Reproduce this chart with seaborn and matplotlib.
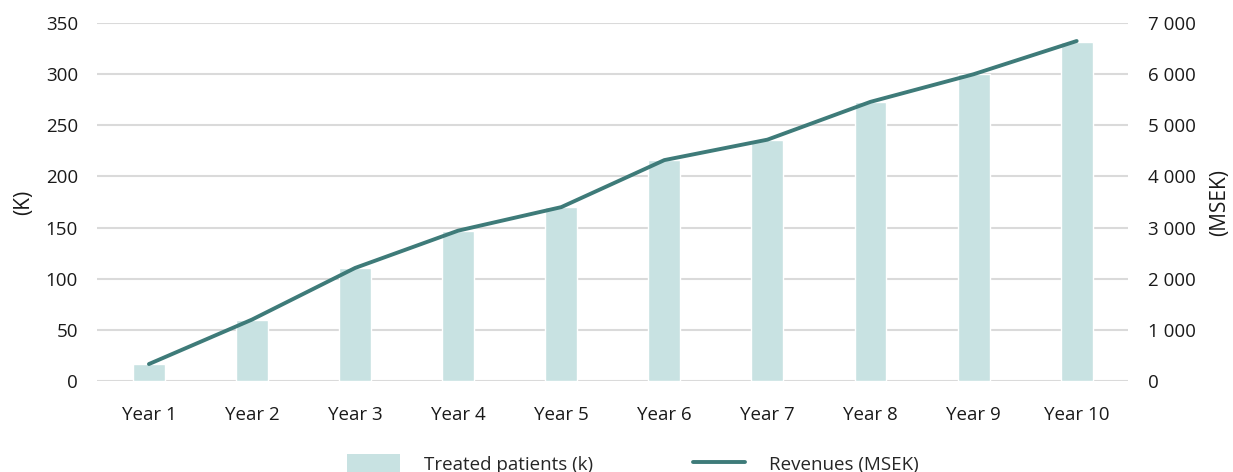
import matplotlib
matplotlib.use("Agg")
import matplotlib.pyplot as plt
import seaborn as sns
import numpy as np
import pandas as pd
from matplotlib.patches import Patch
from matplotlib.lines import Line2D

years = ["Year 1", "Year 2", "Year 3", "Year 4", "Year 5",
         "Year 6", "Year 7", "Year 8", "Year 9", "Year 10"]
treated_patients_k = [17, 60, 110, 147, 170, 216, 236, 273, 300, 332]
revenues_msek = [330, 1200, 2210, 2940, 3400, 4320, 4720, 5460, 6000, 6650]
left_ticks = [0, 50, 100, 150, 200, 250, 300, 350]
right_ticks = [0, 1000, 2000, 3000, 4000, 5000, 6000, 7000]
right_tick_labels = ["0", "1 000", "2 000", "3 000", "4 000", "5 000", "6 000", "7 000"]
left_label = "(K)"
right_label = "(MSEK)"
bar_name = "Treated patients (k)"
line_name = "Revenues (MSEK)"

bar_color = "#c8e2e2"
line_color = "#3e7b79"
grid_color = "#dadada"
text_color = "#1a1a1a"

sns.set_theme(style="white")
plt.rcParams["font.family"] = ["Open Sans", "DejaVu Sans"]

df = pd.DataFrame({"year": years, "patients": treated_patients_k,
                   "revenue": revenues_msek, "pos": np.arange(len(years))})

fig = plt.figure(figsize=(12.33, 4.72), dpi=100)
ax = fig.add_axes([0.079, 0.193, 0.836, 0.758])

sns.barplot(data=df, x="year", y="patients", color=bar_color, width=0.31,
            saturation=1, ax=ax, zorder=2)
ax.set_ylim(0, 350)
ax.set_yticks(left_ticks)
ax.set_yticklabels([str(t) for t in left_ticks])
ax.yaxis.grid(True, color=grid_color, linewidth=1.5, zorder=0)
ax.set_axisbelow(True)
ax.set_xlabel("")
ax.set_ylabel(left_label, fontsize=15, color=text_color, labelpad=8)
ax.set_xlim(-0.5, len(years) - 0.5)
for s in ax.spines.values():
    s.set_visible(False)
ax.tick_params(axis="both", length=0, labelsize=13.5, colors=text_color)
ax.tick_params(axis="x", pad=18)
ax.tick_params(axis="y", pad=14)

ax2 = ax.twinx()
sns.lineplot(data=df, x="pos", y="revenue", color=line_color, linewidth=2.8,
             ax=ax2, zorder=3)
ax2.set_ylim(0, 7000)
ax2.set_yticks(right_ticks)
ax2.set_yticklabels(right_tick_labels)
ax2.set_ylabel(right_label, fontsize=15, color=text_color, labelpad=10)
ax2.set_xlabel("")
ax2.grid(False)
for s in ax2.spines.values():
    s.set_visible(False)
ax2.tick_params(axis="y", length=0, labelsize=13.5, colors=text_color, pad=14)

handles = [Patch(facecolor=bar_color, edgecolor="none"),
           Line2D([0], [0], color=line_color, linewidth=2.8)]
fig.legend(handles, [bar_name, line_name], loc="lower center",
           bbox_to_anchor=(0.5135, -0.04), ncol=2, frameon=False,
           fontsize=13.5, handlelength=2.8, handleheight=1.2,
           columnspacing=5.3, handletextpad=1.3)

fig.savefig("out.png", dpi=100)
